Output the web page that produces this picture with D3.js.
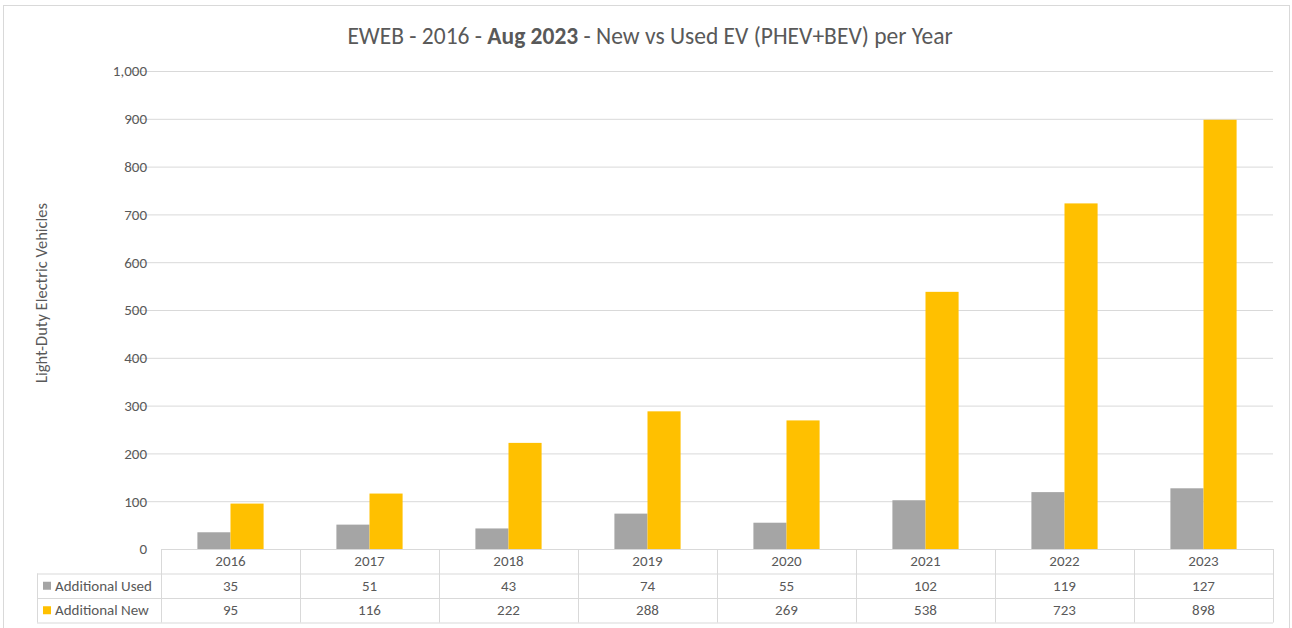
<!DOCTYPE html>
<html>
<head>
<meta charset="utf-8">
<script src="https://cdn.jsdelivr.net/npm/d3@7"></script>
<style>
  body { margin: 0; background: #fff; }
  text { font-family: Calibri, Carlito, Lato, "Liberation Sans", sans-serif; fill: #595959; }
</style>
</head>
<body>
<script>
"use strict"

const years = ['2016', '2017', '2018', '2019', '2020', '2021', '2022', '2023'];
const usedValues = [35, 51, 43, 74, 55, 102, 119, 127];
const newValues = [95, 116, 222, 288, 269, 538, 723, 898];
const seriesNames = ['Additional Used', 'Additional New'];
const seriesColors = ['#A5A5A5', '#FFC000'];
const yTicks = [0, 100, 200, 300, 400, 500, 600, 700, 800, 900, 1000];

const w = 1292;
const h = 628;
const plotLeft = 161;
const plotRight = 1273;
const plotTop = 71;
const plotBottom = 549;
const rowH = 24.5;
const legendLeft = 37;

const svg = d3.select('body')
	.append('svg')
	.attr('width', w)
	.attr('height', h);

// chart frame
svg.append('rect')
	.attr('x', 3.5)
	.attr('y', 5.5)
	.attr('width', w - 6)
	.attr('height', h - 4)
	.attr('fill', '#fff')
	.attr('stroke', '#D9D9D9');

const title = svg.append('text')
	.attr('x', 650)
	.attr('y', 44)
	.attr('text-anchor', 'middle')
	.style('font-size', '23.5px');
title.append('tspan').text('EWEB - 2016 - ');
title.append('tspan').style('font-weight', 'bold').text('Aug 2023');
title.append('tspan').text(' - New vs Used EV (PHEV+BEV) per Year');

const xScale = d3.scaleBand()
	.domain(years)
	.range([plotLeft, plotRight]);

const inner = d3.scaleBand()
	.domain([0, 1])
	.range([0, xScale.bandwidth()])
	.paddingInner(0)
	.paddingOuter(1.1);

const yScale = d3.scaleLinear()
	.domain([0, 1000])
	.range([plotBottom, plotTop]);

// gridlines
svg.append('g')
	.selectAll('line')
	.data(yTicks.slice(1))
	.enter()
	.append('line')
	.attr('x1', 130)
	.attr('x2', plotRight)
	.attr('y1', d => yScale(d) + 0.5)
	.attr('y2', d => yScale(d) + 0.5)
	.attr('stroke', '#D9D9D9');

const yAxis = d3.axisLeft(yScale)
	.tickValues(yTicks)
	.tickFormat(d3.format(','))
	.tickSize(0)
	.tickPadding(0);

svg.append('g')
	.attr('transform', 'translate(147, 0)')
	.call(yAxis)
	.call(g => g.select('.domain').remove())
	.call(g => g.selectAll('text').style('font-size', '15px').attr('fill', '#595959'));

svg.append('text')
	.attr('transform', 'translate(47, 293) rotate(-90)')
	.attr('text-anchor', 'middle')
	.style('font-size', '16.5px')
	.text('Light-Duty Electric Vehicles');

const series = [usedValues, newValues];

svg.append('g')
	.selectAll('g')
	.data(series)
	.enter()
	.append('g')
	.attr('fill', (d, i) => seriesColors[i])
	.each(function (vals, si) {
		d3.select(this).selectAll('rect')
			.data(vals)
			.enter()
			.append('rect')
			.attr('x', (d, i) => xScale(years[i]) + inner(si))
			.attr('y', d => yScale(d))
			.attr('width', inner.bandwidth())
			.attr('height', d => plotBottom - yScale(d));
	});

// data table
const table = svg.append('g');
const tableStroke = '#D9D9D9';

// horizontal lines
[plotBottom, plotBottom + rowH, plotBottom + 2 * rowH, plotBottom + 3 * rowH].forEach((y, i) => {
	table.append('line')
		.attr('x1', i === 0 ? plotLeft : legendLeft)
		.attr('x2', plotRight)
		.attr('y1', y + 0.5)
		.attr('y2', y + 0.5)
		.attr('stroke', tableStroke);
});

// vertical lines
table.append('line')
	.attr('x1', legendLeft + 0.5).attr('x2', legendLeft + 0.5)
	.attr('y1', plotBottom + rowH).attr('y2', plotBottom + 3 * rowH)
	.attr('stroke', tableStroke);

table.selectAll('line.v')
	.data(years.concat(['end']))
	.enter()
	.append('line')
	.attr('class', 'v')
	.attr('x1', d => (d === 'end' ? plotRight : xScale(d)) + 0.5)
	.attr('x2', d => (d === 'end' ? plotRight : xScale(d)) + 0.5)
	.attr('y1', plotBottom)
	.attr('y2', plotBottom + 3 * rowH)
	.attr('stroke', tableStroke);

// header years
table.selectAll('text.year')
	.data(years)
	.enter()
	.append('text')
	.attr('class', 'year')
	.attr('x', d => xScale(d) + xScale.bandwidth() / 2)
	.attr('y', plotBottom + rowH / 2 + 5)
	.attr('text-anchor', 'middle')
	.style('font-size', '15px')
	.text(d => d);

series.forEach((vals, si) => {
	const rowY = plotBottom + rowH * (si + 1);
	table.append('rect')
		.attr('x', 43)
		.attr('y', rowY + rowH / 2 - 4)
		.attr('width', 8)
		.attr('height', 8)
		.attr('fill', seriesColors[si]);
	table.append('text')
		.attr('x', 55)
		.attr('y', rowY + rowH / 2 + 5)
		.style('font-size', '15px')
		.text(seriesNames[si]);
	table.selectAll('text.s' + si)
		.data(vals)
		.enter()
		.append('text')
		.attr('class', 's' + si)
		.attr('x', (d, i) => xScale(years[i]) + xScale.bandwidth() / 2)
		.attr('y', rowY + rowH / 2 + 5)
		.attr('text-anchor', 'middle')
		.style('font-size', '15px')
		.text(d => d);
});
</script>
</body>
</html>
